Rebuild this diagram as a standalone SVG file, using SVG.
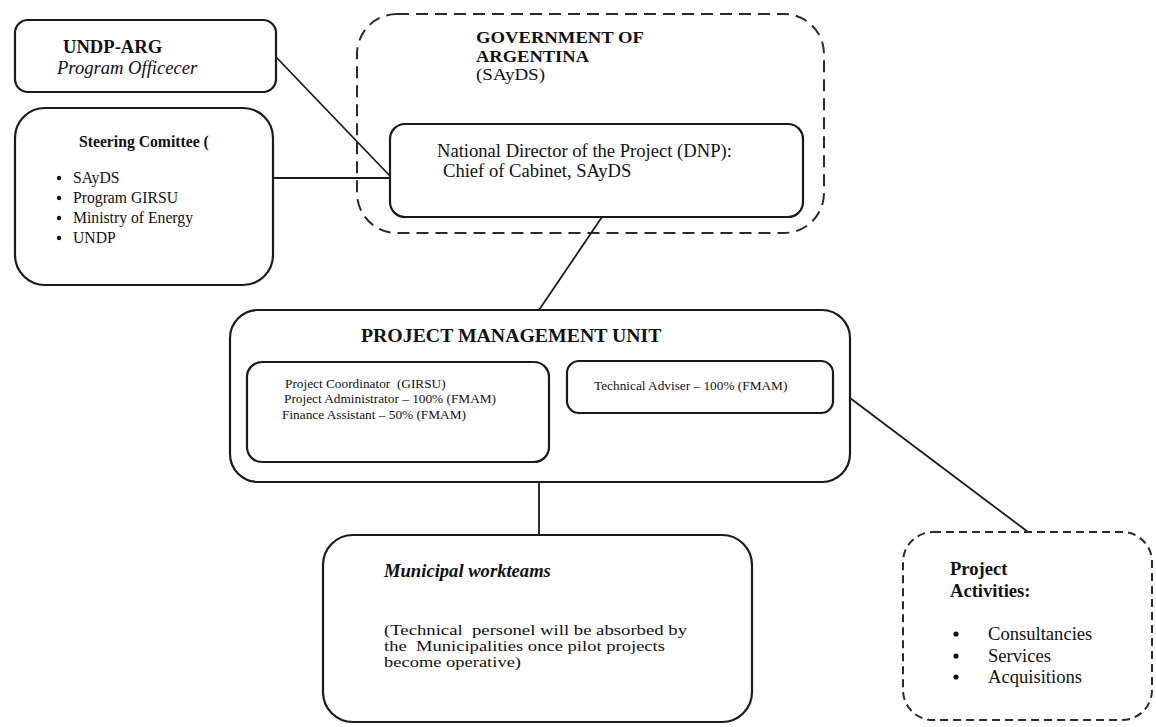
<svg xmlns="http://www.w3.org/2000/svg" width="1156" height="727" viewBox="0 0 1156 727">
<style>
.box{fill:#fff;stroke:#1a1a1a;stroke-width:2.2}
.dash{fill:none;stroke:#2a2a2a;stroke-width:2;stroke-dasharray:12 7}
.dash2{fill:none;stroke:#2a2a2a;stroke-width:2;stroke-dasharray:8 5}
.con{stroke:#1a1a1a;stroke-width:1.8;fill:none}
text{font-family:"Liberation Serif","Times New Roman",serif;fill:#111}
.b{font-weight:bold}
.i{font-style:italic}
.big{font-size:18.6px}
.tight{font-size:16.6px}
.note{font-size:15px}
.mid{font-size:15.7px}
.sm{font-size:13.3px}
.dot{fill:#111}
</style>
<rect width="1156" height="727" fill="#fff"/>
<g id="government">
<rect class="dash" x="357" y="14" width="467" height="219" rx="40"/>
<text class="b tight" x="476" y="43" textLength="168" lengthAdjust="spacingAndGlyphs">GOVERNMENT OF</text>
<text class="b tight" x="476" y="62" textLength="113" lengthAdjust="spacingAndGlyphs">ARGENTINA</text>
<text class="tight" x="476" y="80" textLength="69" lengthAdjust="spacingAndGlyphs">(SAyDS)</text>
</g>
<g id="connectors">
<line class="con" x1="276" y1="57" x2="390" y2="176"/>
<line class="con" x1="273" y1="178" x2="390" y2="178"/>
<line class="con" x1="602" y1="217" x2="539" y2="310"/>
<line class="con" x1="539" y1="482" x2="539" y2="535"/>
<line class="con" x1="850" y1="398" x2="1028" y2="532"/>
</g>
<g id="undp">
<rect class="box" x="15" y="20" width="261" height="72" rx="13"/>
<text class="b big" x="63" y="53">UNDP-ARG</text>
<text class="i big" x="57" y="74">Program Officecer</text>
</g>
<g id="steering">
<rect class="box" x="15" y="108" width="258" height="177" rx="30"/>
<text class="b mid" x="79" y="147">Steering Comittee (</text>
<circle class="dot" cx="59" cy="178" r="2.2"/>
<circle class="dot" cx="59" cy="198" r="2.2"/>
<circle class="dot" cx="59" cy="218" r="2.2"/>
<circle class="dot" cx="59" cy="238" r="2.2"/>
<text class="mid" x="73" y="183">SAyDS</text>
<text class="mid" x="73" y="203">Program GIRSU</text>
<text class="mid" x="73" y="223">Ministry of Energy</text>
<text class="mid" x="73" y="243">UNDP</text>
</g>
<g id="dnp">
<rect class="box" x="390" y="124" width="413" height="93" rx="15"/>
<text class="big" x="437" y="157">National Director of the Project (DNP):</text>
<text class="big" x="443" y="177">Chief of Cabinet, SAyDS</text>
</g>
<g id="pmu">
<rect class="box" x="230" y="310" width="620" height="172" rx="28"/>
<text class="b" style="font-size:19.8px" x="361" y="342">PROJECT MANAGEMENT UNIT</text>
</g>
<g id="pmu-staff">
<rect class="box" x="247" y="362" width="302" height="100" rx="15"/>
<text class="sm" x="285" y="388" xml:space="preserve">Project Coordinator  (GIRSU)</text>
<text class="sm" x="284" y="403">Project Administrator – 100% (FMAM)</text>
<text class="sm" x="282" y="419">Finance Assistant – 50% (FMAM)</text>
</g>
<g id="technical-adviser">
<rect class="box" x="567" y="361" width="266" height="52" rx="12"/>
<text class="sm" x="594" y="390">Technical Adviser – 100% (FMAM)</text>
</g>
<g id="municipal">
<rect class="box" x="323" y="535" width="429" height="187" rx="30"/>
<text class="b i big" x="384" y="577">Municipal workteams</text>
<text class="note" x="384" y="635" textLength="303" lengthAdjust="spacingAndGlyphs" xml:space="preserve">(Technical  personel will be absorbed by</text>
<text class="note" x="384" y="651" textLength="281" lengthAdjust="spacingAndGlyphs" xml:space="preserve">the  Municipalities once pilot projects</text>
<text class="note" x="384" y="667" textLength="137" lengthAdjust="spacingAndGlyphs">become operative)</text>
</g>
<g id="activities">
<rect class="dash2" x="903" y="532" width="249" height="188" rx="30"/>
<text class="b big" x="950" y="575">Project</text>
<text class="b big" x="950" y="597">Activities:</text>
<circle class="dot" cx="956" cy="634" r="2.6"/>
<circle class="dot" cx="956" cy="656" r="2.6"/>
<circle class="dot" cx="956" cy="677" r="2.6"/>
<text class="big" x="988" y="640">Consultancies</text>
<text class="big" x="988" y="662">Services</text>
<text class="big" x="988" y="683">Acquisitions</text>
</g>
</svg>
